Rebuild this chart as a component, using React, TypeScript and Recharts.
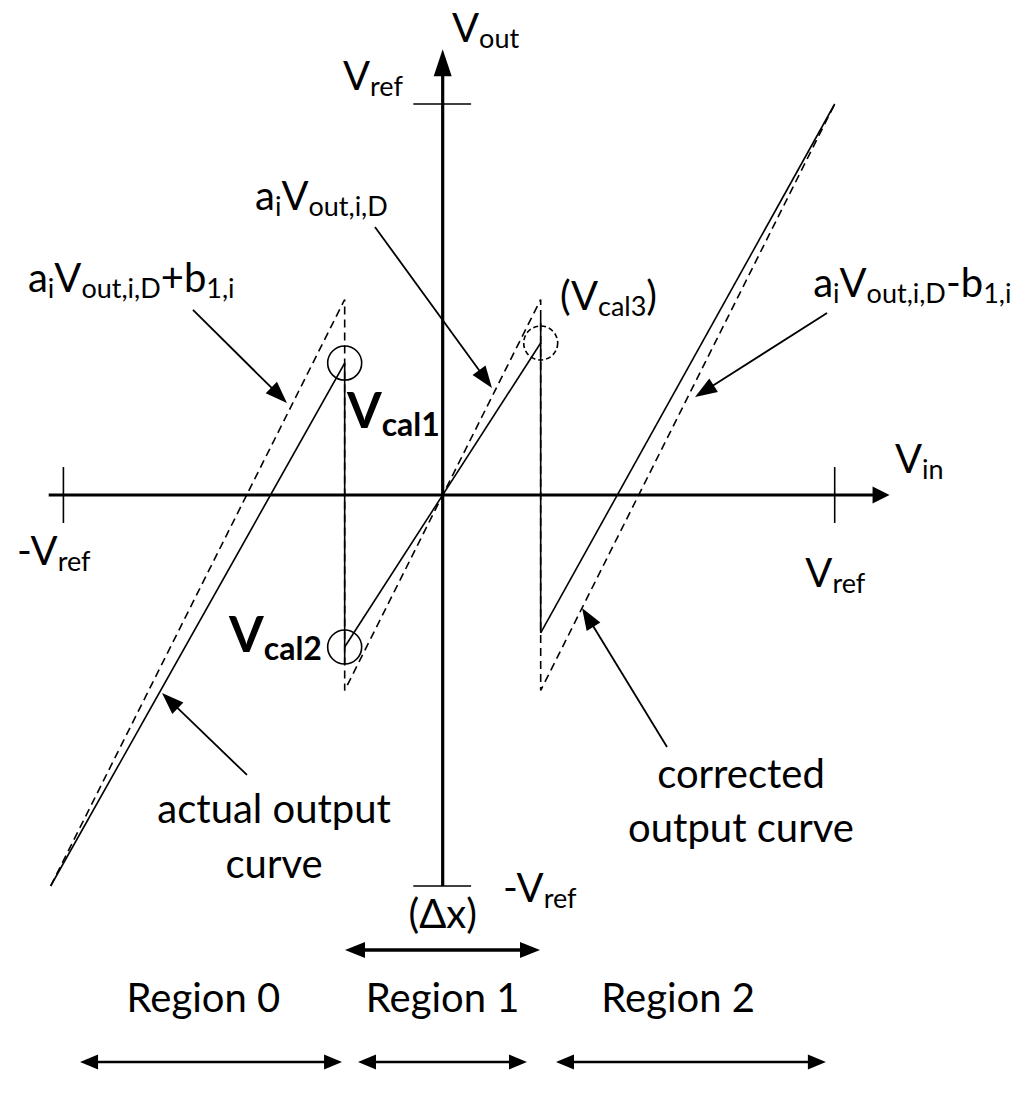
import React from 'react';
import { ComposedChart, Line, XAxis, YAxis, ReferenceLine, ReferenceDot } from 'recharts';

// Canvas size and the visible window in units of Δx (Vref = 4 Δx)
const WIDTH = 1026;
const HEIGHT = 1108;
const X_DOMAIN: [number, number] = [-4.517, 5.952];
const Y_DOMAIN: [number, number] = [-6.271, 5.064];

// Ideal / corrected transfer a_i·V_out,i,D ± b_1,i  (dashed sawtooth)
const idealCurve = [
  { x: -4, y: -4 },
  { x: -1, y: 2 },
  { x: -1, y: -2 },
  { x: 1, y: 2 },
  { x: 1, y: -2 },
  { x: 4, y: 4 },
];

// Actual output curve, one piece per region plus the two step edges
const actualRegion0 = [{ x: -4, y: -4 }, { x: -1, y: 1.35 }];
const actualRegion1 = [{ x: -1, y: -1.555 }, { x: 1, y: 1.555 }];
const actualRegion2 = [{ x: 1, y: -1.41 }, { x: 4, y: 4 }];
const stepLeft = [{ x: -1, y: 1.35 }, { x: -1, y: -1.74 }];
const stepRight = [{ x: 1, y: 1.81 }, { x: 1, y: -1.41 }];

// Calibration points (V_cal1, V_cal2, V_cal3)
const calPoints = [
  { x: -1, y: 1.35, dashed: false },
  { x: -1, y: -1.555, dashed: false },
  { x: 1, y: 1.555, dashed: true },
];

// Axes: [from, to] with arrow at the "to" end
const xAxisLine = [{ x: -4.02, y: 0 }, { x: 4.56, y: 0 }];
const yAxisLine = [{ x: 0, y: -4 }, { x: 0, y: 4.56 }];

// ±Vref tick marks
const ticks = [
  [{ x: -3.87, y: -0.286 }, { x: -3.87, y: 0.286 }],
  [{ x: 4.0, y: -0.286 }, { x: 4.0, y: 0.286 }],
  [{ x: -0.3, y: 4 }, { x: 0.29, y: 4 }],
  [{ x: -0.3, y: -4 }, { x: 0.29, y: -4 }],
];

// Callout arrows: [tail, head]
const pointers = [
  [{ x: -2.548, y: 1.893 }, { x: -1.589, y: 0.941 }],
  [{ x: -0.691, y: 2.742 }, { x: 0.503, y: 1.095 }],
  [{ x: 3.922, y: 1.862 }, { x: 2.575, y: 1.003 }],
  [{ x: -1.997, y: -2.864 }, { x: -2.864, y: -2.026 }],
  [{ x: 2.289, y: -2.578 }, { x: 1.422, y: -1.156 }],
];

// Double-headed spans: Δx and the three regions
const deltaSpan = [{ x: -0.997, y: -4.655 }, { x: 0.993, y: -4.655 }];
const regionSpans = [
  [{ x: -3.7, y: -5.8 }, { x: -1.027, y: -5.8 }],
  [{ x: -0.864, y: -5.8 }, { x: 0.86, y: -5.8 }],
  [{ x: 1.156, y: -5.8 }, { x: 3.91, y: -5.8 }],
];

type Part = [string, boolean]; // [text, is subscript]
type TextLabel = {
  x: number;
  y: number;
  parts: Part[];
  size?: number;
  sub?: number;
  bold?: boolean;
  anchor?: 'start' | 'middle' | 'end';
};

const textLabels: TextLabel[] = [
  { x: 0.095, y: 4.634, parts: [['V', false], ['out', true]] },
  { x: -1.017, y: 4.143, parts: [['V', false], ['ref', true]] },
  { x: -4.344, y: -0.716, parts: [['-V', false], ['ref', true]] },
  { x: 3.7, y: -0.941, parts: [['V', false], ['ref', true]] },
  { x: 4.615, y: 0.225, parts: [['V', false], ['in', true]] },
  { x: 0.615, y: -4.164, parts: [['-V', false], ['ref', true]] },
  {
    x: -4.232,
    y: 2.077,
    parts: [['a', false], ['i', true], ['V', false], ['out,i,D', true], ['+b', false], ['1,i', true]],
  },
  { x: -1.915, y: 2.916, parts: [['a', false], ['i', true], ['V', false], ['out,i,D', true]] },
  { x: 1.197, y: 1.893, parts: [['(V', false], ['cal3', true], [')', false]] },
  {
    x: 3.78,
    y: 2.025,
    parts: [['a', false], ['i', true], ['V', false], ['out,i,D', true], ['-b', false], ['1,i', true]],
  },
  { x: -0.977, y: 0.685, parts: [['V', false], ['cal1', true]], size: 50, sub: 32, bold: true },
  { x: -1.232, y: -1.606, parts: [['V', false], ['cal2', true]], size: 50, sub: 32, bold: true, anchor: 'end' },
  { x: -1.72, y: -3.355, parts: [['actual output', false]], anchor: 'middle' },
  { x: -1.72, y: -3.918, parts: [['curve', false]], anchor: 'middle' },
  { x: 3.044, y: -2.997, parts: [['corrected', false]], anchor: 'middle' },
  { x: 3.044, y: -3.55, parts: [['output curve', false]], anchor: 'middle' },
  { x: 0, y: -4.43, parts: [['(Δx)', false]], anchor: 'middle' },
  { x: -2.441, y: -5.289, parts: [['Region 0', false]], anchor: 'middle' },
  { x: 0, y: -5.289, parts: [['Region 1', false]], anchor: 'middle' },
  { x: 2.403, y: -5.289, parts: [['Region 2', false]], anchor: 'middle' },
];

const FONT = 'Lato, "Open Sans", sans-serif';

function renderRichText(label: TextLabel) {
  return (p: any) => {
    const size = label.size ?? 40;
    const sub = label.sub ?? 27;
    const shift = Math.round(size * 0.16);
    let level = 0;
    return (
      <text
        x={p.cx}
        y={p.cy}
        fontFamily={FONT}
        fontSize={size}
        fontWeight={label.bold ? 700 : 400}
        textAnchor={label.anchor ?? 'start'}
        fill="#000"
      >
        {label.parts.map(([t, isSub], i) => {
          let dy = 0;
          if (isSub && level === 0) dy = shift;
          if (!isSub && level === 1) dy = -shift;
          level = isSub ? 1 : 0;
          return (
            <tspan key={i} dy={dy} fontSize={isSub ? sub : size}>
              {t}
            </tspan>
          );
        })}
      </text>
    );
  };
}

function arrowShape(head: number, half: number, width: number, both = false) {
  return (p: any) => {
    const { x1, y1, x2, y2 } = p;
    const dx = x2 - x1;
    const dy = y2 - y1;
    const len = Math.hypot(dx, dy) || 1;
    const ux = dx / len;
    const uy = dy / len;
    const nx = -uy;
    const ny = ux;
    const headAt = (tx: number, ty: number, dirx: number, diry: number) => {
      const bx = tx - dirx * head;
      const by = ty - diry * head;
      return `${tx},${ty} ${bx + nx * half},${by + ny * half} ${bx - nx * half},${by - ny * half}`;
    };
    const sx = both ? x1 + ux * (head - 2) : x1;
    const sy = both ? y1 + uy * (head - 2) : y1;
    return (
      <g>
        <line
          x1={sx}
          y1={sy}
          x2={x2 - ux * (head - 2)}
          y2={y2 - uy * (head - 2)}
          stroke="#000"
          strokeWidth={width}
        />
        <polygon points={headAt(x2, y2, ux, uy)} fill="#000" />
        {both && <polygon points={headAt(x1, y1, -ux, -uy)} fill="#000" />}
      </g>
    );
  };
}

const circleShape = (dashed: boolean) => (p: any) => (
  <circle
    cx={p.cx}
    cy={p.cy}
    r={17}
    fill="none"
    stroke="#000"
    strokeWidth={1.6}
    strokeDasharray={dashed ? '5 3' : undefined}
  />
);

export default function App() {
  const lineProps = {
    dataKey: 'y',
    stroke: '#000',
    strokeWidth: 1.6,
    dot: false,
    activeDot: false,
    isAnimationActive: false,
    type: 'linear' as const,
  };
  return (
    <div style={{ position: 'absolute', left: 0, top: 0, background: '#fff' }}>
      <ComposedChart width={WIDTH} height={HEIGHT} margin={{ top: 0, right: 0, bottom: 0, left: 0 }}>
        <XAxis type="number" dataKey="x" domain={X_DOMAIN} allowDataOverflow hide />
        <YAxis type="number" domain={Y_DOMAIN} allowDataOverflow hide />

        <Line {...lineProps} data={idealCurve} strokeDasharray="8 5" />
        <Line {...lineProps} data={actualRegion0} />
        <Line {...lineProps} data={actualRegion1} />
        <Line {...lineProps} data={actualRegion2} />
        <Line {...lineProps} data={stepLeft} />
        <Line {...lineProps} data={stepRight} />

        <ReferenceLine segment={xAxisLine} ifOverflow="visible" shape={arrowShape(17, 8.5, 3.2)} />
        <ReferenceLine segment={yAxisLine} ifOverflow="visible" shape={arrowShape(27, 9, 3.2)} />

        {ticks.map((seg, i) => (
          <ReferenceLine key={`t${i}`} segment={seg} ifOverflow="visible" stroke="#000" strokeWidth={1.6} />
        ))}

        {pointers.map((seg, i) => (
          <ReferenceLine key={`p${i}`} segment={seg} ifOverflow="visible" shape={arrowShape(22, 8, 1.8)} />
        ))}

        <ReferenceLine segment={deltaSpan} ifOverflow="visible" shape={arrowShape(20, 8, 3.5, true)} />
        {regionSpans.map((seg, i) => (
          <ReferenceLine key={`r${i}`} segment={seg} ifOverflow="visible" shape={arrowShape(18, 7.5, 2.6, true)} />
        ))}

        {calPoints.map((c, i) => (
          <ReferenceDot key={`c${i}`} x={c.x} y={c.y} r={17} ifOverflow="visible" shape={circleShape(c.dashed)} />
        ))}

        {textLabels.map((l, i) => (
          <ReferenceDot key={`l${i}`} x={l.x} y={l.y} r={1} ifOverflow="visible" shape={renderRichText(l)} />
        ))}
      </ComposedChart>
    </div>
  );
}
